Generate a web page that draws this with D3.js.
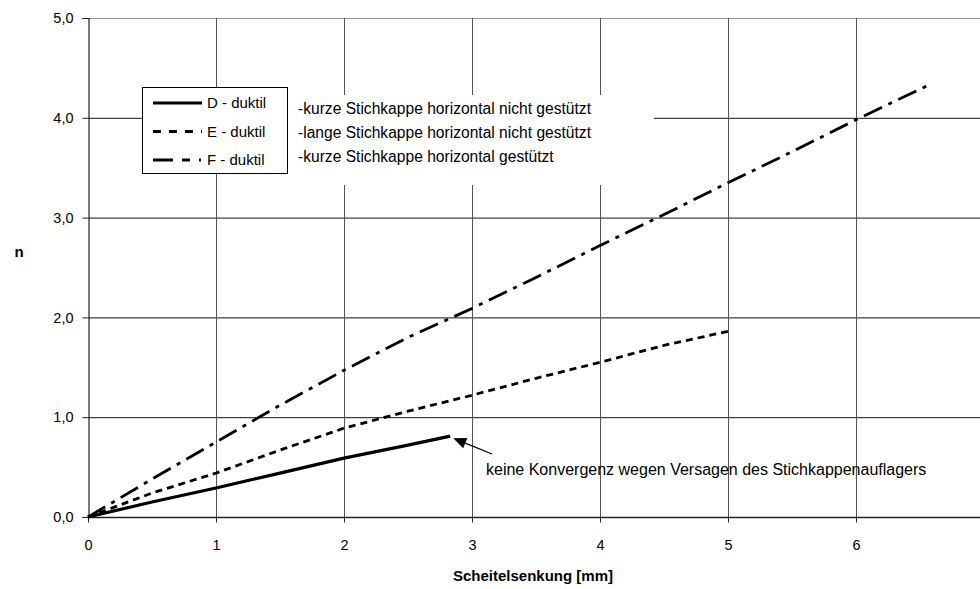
<!DOCTYPE html>
<html><head><meta charset="utf-8">
<script src="https://cdn.jsdelivr.net/npm/d3@7"></script>
<style>
html,body{margin:0;padding:0;background:#fff;}
svg{display:block;font-family:Arial,"Liberation Sans",sans-serif;}
</style></head>
<body><svg id="c" width="980" height="589"></svg>
<script>
// ---- data ----
const xTicks = [0,1,2,3,4,5,6];
const yTicks = [0,1,2,3,4,5];
const xD = [0,0.5,1,1.5,2,2.5,2.83];
const nD = [0,0.15,0.29,0.44,0.59,0.72,0.81];
const xE = [0,0.5,1,1.5,2,2.5,3,3.5,4,4.5,5];
const nE = [0,0.24,0.44,0.67,0.89,1.06,1.22,1.39,1.55,1.72,1.86];
const xF = [0,0.5,1,1.5,2,2.5,3,3.5,4,4.5,5,5.5,6,6.57];
const nF = [0,0.38,0.75,1.12,1.47,1.8,2.09,2.4,2.72,3.03,3.35,3.66,3.98,4.33];
const legendNames = ["D - duktil","E - duktil","F - duktil"];
const legendDesc = ["-kurze Stichkappe horizontal nicht gestützt","-lange Stichkappe horizontal nicht gestützt","-kurze Stichkappe horizontal gestützt"];
const noteText = "keine Konvergenz wegen Versagen des Stichkappenauflagers";
const noteAt = [2.83, 0.81];

const svg = d3.select("#c");
const x = d3.scaleLinear().domain([0,7]).range([88,984]);
const y = d3.scaleLinear().domain([0,5]).range([517,18]);
const fmt = d => d3.format(".1f")(d).replace(".", ",");

// grid
svg.append("g").selectAll("line").data(yTicks.slice(1)).join("line")
  .attr("x1", x(0)).attr("x2", 980).attr("y1", d=>y(d)+0.5).attr("y2", d=>y(d)+0.5)
  .attr("stroke", d=> d===5 ? "#999" : "#111").attr("stroke-width",1);
svg.append("g").selectAll("line").data(xTicks.slice(1)).join("line")
  .attr("x1", d=>x(d)+0.5).attr("x2", d=>x(d)+0.5).attr("y1", y(5)).attr("y2", y(0)+5)
  .attr("stroke","#555").attr("stroke-width",1);

// axes
const yAxis = d3.axisLeft(y).tickValues(yTicks).tickFormat(fmt).tickSize(6).tickPadding(9);
const gy = svg.append("g").attr("transform",`translate(${x(0)+0.5},0)`).call(yAxis);
const xAxis = d3.axisBottom(x).tickValues(xTicks).tickFormat(d3.format("d")).tickSize(5).tickPadding(17);
const gx = svg.append("g").attr("transform",`translate(0,${y(0)+0.5})`).call(xAxis);
gx.select(".domain").attr("d", `M${x(0)},0H980`);
[gx,gy].forEach(g=>{
  g.select(".domain").attr("stroke","#222").attr("stroke-width",1.5);
  g.selectAll(".tick line").attr("stroke","#222");
  g.selectAll(".tick text").attr("font-size",14.5).attr("fill","#000").attr("font-family","Arial, 'Liberation Sans', sans-serif");
});
gy.select(".domain").attr("stroke-width",1.2);

// axis titles
svg.append("text").attr("x",533).attr("y",581).attr("text-anchor","middle")
  .attr("font-size",15).attr("font-weight","bold").text("Scheitelsenkung [mm]");
svg.append("text").attr("x",19).attr("y",257).attr("text-anchor","middle")
  .attr("font-size",15).attr("font-weight","bold").text("n");

// series
const line = d3.line().x(d=>x(d[0])).y(d=>y(d[1]));
const series = [
  {xs:xD, ns:nD, w:3.2, dash:null, ldash:null},
  {xs:xE, ns:nE, w:2.8, dash:"7,5", ldash:"8,8"},
  {xs:xF, ns:nF, w:2.8, dash:"20,7,4,7", ldash:"20,9,8,9,2,9"}
];
series.forEach(s=>{
  svg.append("path").datum(d3.zip(s.xs,s.ns)).attr("d",line)
    .attr("fill","none").attr("stroke","#000").attr("stroke-width",s.w)
    .attr("stroke-dasharray",s.dash);
});

// annotation arrow
const tip = [x(noteAt[0])+3, y(noteAt[1])+2];
const tail = [492,454];
const ang = Math.atan2(tail[1]-tip[1], tail[0]-tip[0]);
const hl = 13, hw = 5.5;
const bx = tip[0]+hl*Math.cos(ang), by = tip[1]+hl*Math.sin(ang);
svg.append("line").attr("x1",bx).attr("y1",by).attr("x2",tail[0]).attr("y2",tail[1])
  .attr("stroke","#000").attr("stroke-width",1.2);
svg.append("path").attr("d",`M${tip[0]},${tip[1]}L${bx-hw*Math.sin(ang)},${by+hw*Math.cos(ang)}L${bx+hw*Math.sin(ang)},${by-hw*Math.cos(ang)}Z`).attr("fill","#000");
svg.append("text").attr("x",486).attr("y",475).attr("font-size",16).text(noteText);

// description text box
svg.append("rect").attr("x",288).attr("y",95).attr("width",366).attr("height",90).attr("fill","#fff");
svg.append("g").selectAll("text").data(legendDesc).join("text")
  .attr("x",298).attr("y",(d,i)=>114+i*24).attr("font-size",15.6).text(d=>d);

// legend
const lg = svg.append("g");
lg.append("rect").attr("x",142.5).attr("y",87.5).attr("width",145).attr("height",86)
  .attr("fill","#fff").attr("stroke","#000").attr("stroke-width",1);
legendNames.forEach((nm,i)=>{
  const yy = 103 + i*28.5;
  lg.append("line").attr("x1",153).attr("x2",202).attr("y1",yy).attr("y2",yy)
    .attr("stroke","#000").attr("stroke-width",series[i].w)
    .attr("stroke-dasharray",series[i].ldash);
  lg.append("text").attr("x",207).attr("y",yy+5).attr("font-size",15).text(nm);
});
</script></body></html>
